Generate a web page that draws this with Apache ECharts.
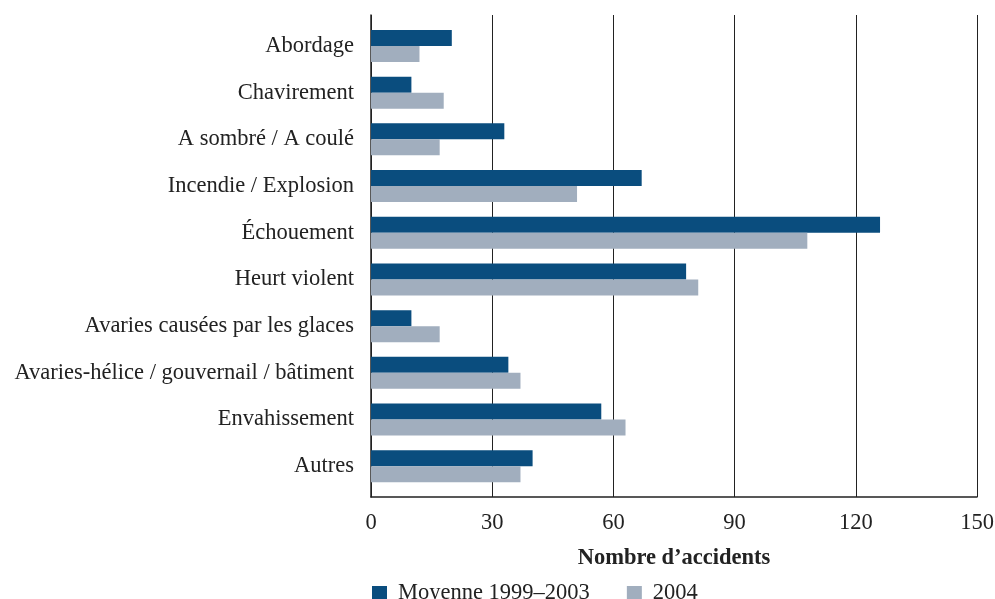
<!DOCTYPE html>
<html><head><meta charset="utf-8">
<script src="https://cdn.jsdelivr.net/npm/echarts@6/dist/echarts.min.js"></script>
<style>html,body{margin:0;padding:0;background:#fff}#c{width:995px;height:599px}</style>
</head><body><div id="c"></div>
<script>
const categories = ["Abordage","Chavirement","A sombré / A coulé","Incendie / Explosion","Échouement","Heurt violent","Avaries causées par les glaces","Avaries-hélice / gouvernail / bâtiment","Envahissement","Autres"];
const moyenne = [20,10,33,67,126,78,10,34,57,40];
const y2004 = [12,18,17,51,108,81,17,37,63,37];
const xTicks = [0,30,60,90,120,150];
const seriesNames = ["Moyenne 1999–2003","2004"];

const FONT = "Liberation Serif";
const FS = 22.5;
const chart = echarts.init(document.getElementById('c'));
chart.setOption({
  animation:false,
  textStyle:{fontFamily:FONT},
  legend:{
    left:372, top:582, itemWidth:15, itemHeight:15, itemGap:37,
    icon:'rect', padding:0,
    textStyle:{fontFamily:FONT,fontSize:FS,color:'#222',padding:[0,0,0,6]},
    data:seriesNames
  },
  grid:[
    {left:371,right:18,top:15,bottom:102,outerBoundsMode:'none',containLabel:false},
    {left:371,right:18,top:22.6,bottom:109.4,outerBoundsMode:'none',containLabel:false}
  ],
  xAxis:[
    {gridIndex:0,type:'value',min:xTicks[0],max:xTicks[xTicks.length-1],interval:30,
     axisLine:{show:true,lineStyle:{color:'#222',width:1.5}},
     axisTick:{show:false},
     splitLine:{show:true,lineStyle:{color:'#222',width:1}},
     axisLabel:{fontFamily:FONT,fontSize:FS,color:'#222',margin:15},
     name:'Nombre d’accidents',nameLocation:'middle',nameGap:50,
     nameTextStyle:{fontFamily:FONT,fontSize:FS,fontWeight:'bold',color:'#222'}},
    {gridIndex:1,type:'value',min:0,max:150,show:false}
  ],
  yAxis:[
    {gridIndex:0,type:'value',min:0,max:1,
     axisLine:{show:true,lineStyle:{color:'#222',width:1.5}},
     axisTick:{show:false},axisLabel:{show:false},splitLine:{show:false}},
    {gridIndex:1,type:'category',data:categories,inverse:true,
     axisLine:{show:false},axisTick:{show:false},splitLine:{show:false},
     axisLabel:{fontFamily:FONT,fontSize:FS,color:'#222',margin:17}}
  ],
  series:[
    {name:seriesNames[0],type:'bar',xAxisIndex:1,yAxisIndex:1,data:moyenne,barWidth:16,barGap:'0%',
     itemStyle:{color:'#0a4d7e'}},
    {name:seriesNames[1],type:'bar',xAxisIndex:1,yAxisIndex:1,data:y2004,barWidth:16,barGap:'0%',
     itemStyle:{color:'#a1aebe'}}
  ]
});
</script></body></html>
